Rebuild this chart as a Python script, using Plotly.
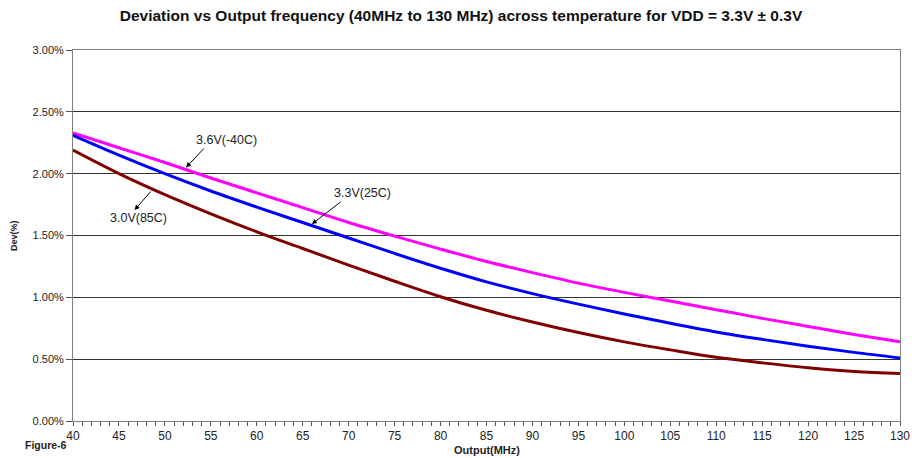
import plotly.graph_objects as go

freq_mhz = [40, 45, 50, 55, 60, 65, 70, 75, 80, 85, 90, 95, 100, 105, 110, 115, 120, 125, 130]
dev_36v_m40c = [2.33, 2.21, 2.09, 1.965, 1.845, 1.725, 1.605, 1.495, 1.39, 1.29, 1.20, 1.115, 1.04, 0.97, 0.90, 0.83, 0.765, 0.70, 0.64]
dev_33v_25c = [2.31, 2.15, 2.00, 1.86, 1.73, 1.605, 1.48, 1.355, 1.235, 1.125, 1.03, 0.945, 0.865, 0.79, 0.72, 0.66, 0.605, 0.555, 0.51]
dev_30v_85c = [2.19, 2.00, 1.83, 1.675, 1.53, 1.395, 1.26, 1.13, 1.005, 0.895, 0.80, 0.715, 0.64, 0.575, 0.515, 0.47, 0.43, 0.40, 0.385]

series_names = ["3.6V(-40C)", "3.3V(25C)", "3.0V(85C)"]
series_colors = ["#FF00FF", "#0000FF", "#800000"]

# label annotations: (text, text_x, text_y, arrow_tail_x, arrow_tail_y, arrow_head_x, arrow_head_y)
labels = [
    ("3.6V(-40C)", 56.7, 2.272, 54.4, 2.216, 52.3, 2.05),
    ("3.3V(25C)", 71.5, 1.844, 69.3, 1.781, 66.0, 1.593),
    ("3.0V(85C)", 47.1, 1.641, 48.6, 1.868, 46.7, 1.706),
]

FONT = "Liberation Sans, Arial, sans-serif"

fig = go.Figure()
for name, vals, col in zip(series_names, [dev_36v_m40c, dev_33v_25c, dev_30v_85c], series_colors):
    fig.add_trace(go.Scatter(x=freq_mhz, y=vals, mode="lines", name=name,
                             line=dict(color=col, width=3, shape="spline", smoothing=1.0)))

anns = []
for text, tx, ty, ax, ay, hx, hy in labels:
    anns.append(dict(x=hx, y=hy, ax=ax, ay=ay, xref="x", yref="y", axref="x", ayref="y",
                     text="", showarrow=True, arrowhead=2, arrowsize=1, arrowwidth=1,
                     arrowcolor="black"))
    anns.append(dict(x=tx, y=ty, xref="x", yref="y", text=text, showarrow=False,
                     font=dict(family=FONT, size=12.5, color="#222")))
anns.append(dict(x=-0.061, y=-0.064, xref="paper", yref="paper", xanchor="left", yanchor="middle",
                 text="<b>Figure-6</b>", showarrow=False,
                 font=dict(family=FONT, size=10.5, color="#222")))
anns.append(dict(x=0.5, y=-0.078, xref="paper", yref="paper", xanchor="center", yanchor="middle",
                 text="<b>Output(MHz)</b>", showarrow=False,
                 font=dict(family=FONT, size=11, color="#222")))
anns.append(dict(x=-0.0719, y=0.5, xref="paper", yref="paper", xanchor="center", yanchor="middle",
                 text="<b>Dev(%)</b>", showarrow=False, textangle=-90,
                 font=dict(family=FONT, size=9, color="#222")))

fig.update_layout(
    width=922, height=458,
    margin=dict(l=73, r=14, t=50, b=37),
    paper_bgcolor="white", plot_bgcolor="white",
    showlegend=False,
    font=dict(family=FONT, size=11, color="#222"),
    title=dict(text="<b>Deviation vs Output frequency (40MHz to 130 MHz) across temperature for VDD = 3.3V \u00b1 0.3V</b>",
               x=0.5, xanchor="center", xref="container", y=0.967, yanchor="middle", yref="container",
               font=dict(family=FONT, size=15.5, color="#111")),
    annotations=anns,
)
fig.update_xaxes(range=[40, 130], dtick=5, tick0=40, ticks="outside", ticklen=4, tickcolor="#555",
                 showgrid=False, showline=True, linecolor="#808080", linewidth=1, mirror=True,
                 minor=dict(dtick=1, ticks="outside", ticklen=4, tickcolor="#555"),
                 tickfont=dict(size=12), zeroline=False)
fig.update_yaxes(range=[0, 3], dtick=0.5, ticks="outside", ticklen=6, tickcolor="#555",
                 tickformat=".2f", ticksuffix="%", showgrid=True, gridcolor="#333", gridwidth=1,
                 showline=True, linecolor="#808080", linewidth=1, mirror=True, zeroline=False,
                 tickfont=dict(size=11))

fig.write_html("out.html", config={"displayModeBar": False, "staticPlot": True},
               post_script="document.body.style.margin='0';document.body.style.overflow='hidden';")
